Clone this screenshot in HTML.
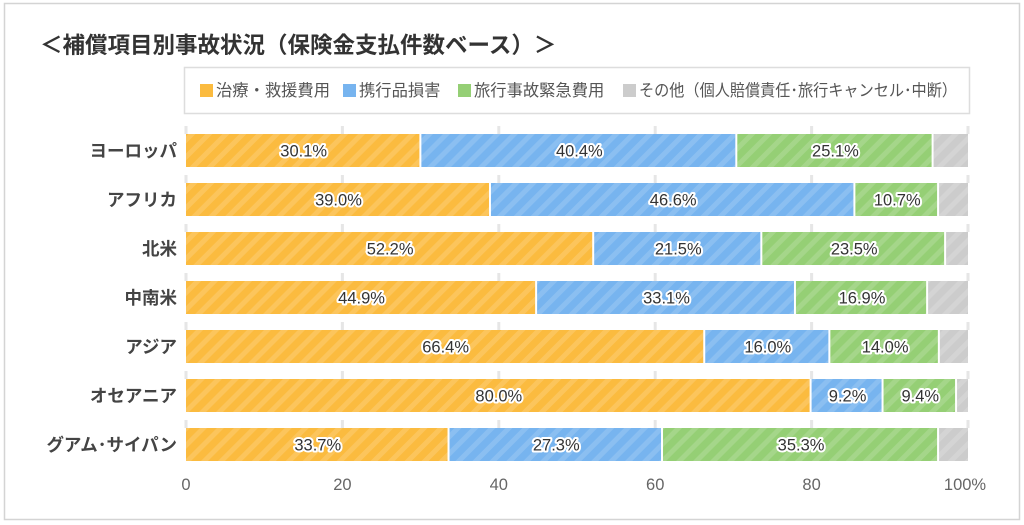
<!DOCTYPE html>
<html><head><meta charset="utf-8"><style>
html,body{margin:0;padding:0;background:#fff;}
svg{display:block;font-family:"Liberation Sans","Noto Sans CJK JP",sans-serif;}
</style></head><body>
<svg id="s" width="1024" height="525" viewBox="0 0 1024 525" xmlns="http://www.w3.org/2000/svg">
<defs>
<pattern id="st" width="12" height="12" patternUnits="userSpaceOnUse" patternTransform="rotate(45)">
<rect x="0" y="0" width="5" height="12" fill="#fff" fill-opacity="0.15"/>
</pattern>
</defs>
<rect x="4.5" y="3.5" width="1015" height="516" fill="#fff" stroke="#d4d4d4" stroke-width="1.5"/>
<text x="40" y="53" font-size="22.5" font-weight="bold" fill="#333">＜補償項目別事故状況（保険金支払件数ベース）＞</text>
<rect x="184.5" y="67.5" width="785" height="46" fill="#fff" stroke="#ddd" stroke-width="1.5"/>
<g font-size="16.3" fill="#555">
<rect x="200" y="84" width="13" height="13" fill="#fbbb3f"/><text x="216" y="96">治療・救援費用</text>
<rect x="343" y="84" width="13" height="13" fill="#77b4ef"/><text x="359" y="96">携行品損害</text>
<rect x="458" y="84" width="13" height="13" fill="#95cf75"/><text x="474" y="96">旅行事故緊急費用</text>
<rect x="623" y="84" width="13" height="13" fill="#ccc"/><text x="639" y="96" textLength="318" lengthAdjust="spacingAndGlyphs">その他（個人賠償責任･旅行キャンセル･中断）</text>
</g>
<g id="g"></g>
</svg>
<script>
var d=[["ヨーロッパ",30.1,40.4,25.1],["アフリカ",39.0,46.6,10.7],["北米",52.2,21.5,23.5],["中南米",44.9,33.1,16.9],["アジア",66.4,16.0,14.0],["オセアニア",80.0,9.2,9.4],["グアム･サイパン",33.7,27.3,35.3]];
var c=["#fbbb3f","#77b4ef","#95cf75","#cccccc"];
var x0=186,k=7.82,h="";
for(var t=0;t<=5;t++){var gx=x0+t*20*k;h+='<line x1="'+gx+'" y1="126" x2="'+gx+'" y2="465" stroke="#e6e6e6" stroke-width="3" stroke-dasharray="8 41"/>';
h+='<text x="'+(gx+(t==5?-3:0))+'" y="490" font-size="16.5" fill="#666" text-anchor="middle">'+(t*20)+(t==5?'%':'')+'</text>';}
for(var i=0;i<d.length;i++){var y=134+i*49,r=d[i],v=[r[1],r[2],r[3],100-r[1]-r[2]-r[3]],x=x0;
h+='<text x="177" y="'+(y+23)+'" font-size="17.5" font-weight="bold" fill="#444" text-anchor="end">'+r[0]+'</text>';
for(var j=0;j<4;j++){var w=v[j]*k;var ww=Math.max(j==3?w:w-2,0.5);
h+='<rect x="'+x+'" y="'+y+'" width="'+ww+'" height="33" fill="'+c[j]+'"/><rect x="'+x+'" y="'+y+'" width="'+ww+'" height="33" fill="url(#st)"/>';
if(j<3){h+='<text x="'+(x+w/2)+'" y="'+(y+22.5)+'" font-size="16.5" fill="#333" text-anchor="middle" stroke="#fff" stroke-width="4" paint-order="stroke" stroke-linejoin="round">'+v[j].toFixed(1)+'%</text>';}
x+=w;}}
document.getElementById("g").innerHTML=h;
</script>
</body></html>
